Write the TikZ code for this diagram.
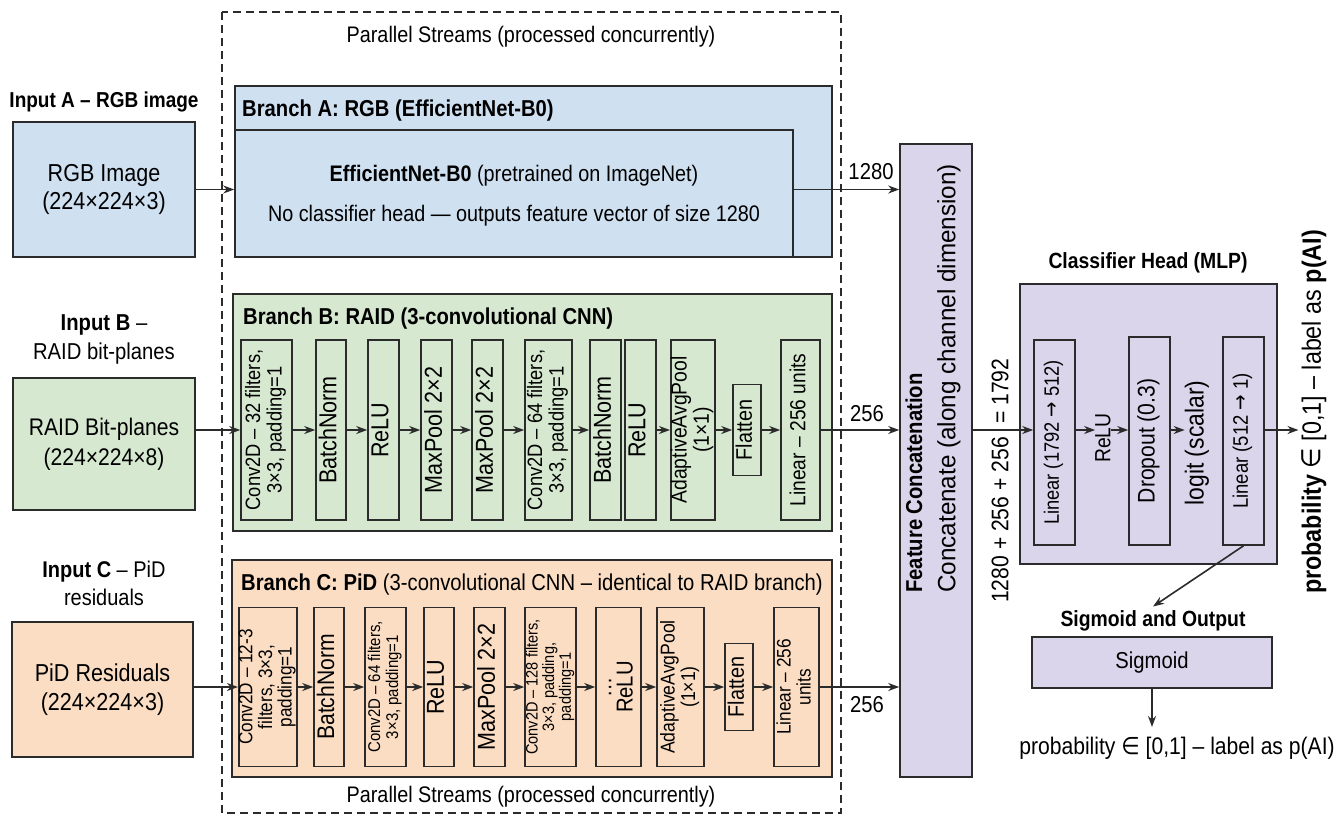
\documentclass[tikz,border=0pt]{standalone}
\usepackage{fontspec}
\setmainfont{Liberation Sans}[FakeStretch=0.88]
\newfontfamily\widef{Liberation Sans}[FakeStretch=0.97]
\newfontfamily\symf{DejaVu Sans}[FakeStretch=0.88]
\usepackage{graphicx}
\usetikzlibrary{arrows.meta}
\definecolor{linec}{HTML}{2B2B2B}
\definecolor{fblue}{HTML}{CFE0F1}
\definecolor{fgreen}{HTML}{D6E8D0}
\definecolor{fpeach}{HTML}{FBDDC3}
\definecolor{fpurple}{HTML}{DAD5EB}
\newcommand{\fsz}[2]{\fontsize{#1}{#2}\selectfont}
\newcommand{\vt}[1]{\rotatebox{90}{\begin{tabular}{@{}c@{}}#1\end{tabular}}}
\newcommand{\ar}{{\symf →}}
\newcommand{\inn}{{\symf ∈}}
\begin{document}
\begin{tikzpicture}[x=1pt,y=-1pt,
  box/.style={draw=linec,line width=1.6pt,inner sep=0pt},
  lay/.style={box,font=\fsz{24.5}{24}},
  laytwo/.style={box,font=\fsz{20.8}{21}},
  arr/.style={draw=linec,line width=1.6pt,-{Stealth[length=11pt,width=8pt]}},
  lbl/.style={inner sep=0pt,text=black},
  every node/.append style={text=black}]
\useasboundingbox (0,0) rectangle (1338,814);
\fill[white] (0,0) rectangle (1338,814);

% dashed parallel region
\draw[linec,line width=1.4pt,dash pattern=on 8pt off 5pt] (222,12) rectangle (841,813);
\node[lbl,font=\fsz{22.5}{26}] (ptop) at (531,37) {Parallel Streams (processed concurrently)};
\node[lbl,font=\fsz{22.5}{26}] (pbot) at (531,797) {Parallel Streams (processed concurrently)};

% inputs
\node[lbl,font=\fsz{21.6}{26}\bfseries] (inA) at (104,102) {Input A – RGB image};
\node[box,fill=fblue,minimum width=182,minimum height=135,align=center,font=\fsz{24.5}{28}] (rgb) at (104,189.5) {RGB Image\\(224×224×3)};
\node[lbl,font=\fsz{23}{29},align=center] (inB) at (104,339) {\textbf{Input B} –\\RAID bit-planes};
\node[box,fill=fgreen,minimum width=182,minimum height=132,align=center,font=\fsz{24}{30}] (raid) at (104,444) {RAID Bit-planes\\(224×224×8)};
\node[lbl,font=\fsz{22.7}{28},align=center] (inC) at (104,583) {\textbf{Input C} – PiD\\residuals};
\node[box,fill=fpeach,minimum width=181,minimum height=135,align=center,font=\fsz{24.5}{29}] (pid) at (102.5,689.5) {PiD Residuals\\(224×224×3)};

% Branch A
\node[box,fill=fblue,minimum width=597,minimum height=171] (abr) at (533.5,171.5) {};
\node[lbl,font=\fsz{23}{26}\bfseries,anchor=west] (atitle) at (242,111) {Branch A: RGB (EfficientNet-B0)};
\node[box,fill=fblue,minimum width=558,minimum height=127] (ainner) at (514,193.5) {};
\node[lbl,font=\fsz{22.5}{26}] (aeff) at (514,176) {\textbf{EfficientNet-B0} (pretrained on ImageNet)};
\node[lbl,font=\fsz{22.5}{26}] (ano) at (514,216) {No classifier head — outputs feature vector of size 1280};

% Branch B
\node[box,fill=fgreen,minimum width=599,minimum height=237] (bbr) at (532.5,412.5) {};
\node[lbl,font=\fsz{23}{26}\bfseries,anchor=west] (btitle) at (243,319) {Branch B: RAID (3-convolutional CNN)};
\node[laytwo,minimum width=51,minimum height=180] (b1) at (266.5,430) {\vt{Conv2D – 32 filters,\\3×3, padding=1}};
\node[lay,minimum width=30,minimum height=180] (b2) at (331,430) {\vt{BatchNorm}};
\node[lay,minimum width=31,minimum height=180] (b3) at (383.5,430) {\vt{ReLU}};
\node[lay,minimum width=31,minimum height=180] (b4) at (436.5,430) {\vt{MaxPool 2×2}};
\node[lay,minimum width=31,minimum height=180] (b5) at (487.5,430) {\vt{MaxPool 2×2}};
\node[laytwo,minimum width=47,minimum height=180] (b6) at (548.5,430) {\vt{Conv2D – 64 filters,\\3×3, padding=1}};
\node[lay,minimum width=31,minimum height=180] (b7) at (605.5,430) {\vt{BatchNorm}};
\node[lay,minimum width=31,minimum height=180] (b8) at (640.5,430) {\vt{ReLU}};
\node[box,font=\fsz{22}{21},minimum width=44,minimum height=180] (b9) at (693,430) {\vt{AdaptiveAvgPool\\(1×1)}};
\node[box,font=\fsz{22.5}{24},minimum width=28,minimum height=91] (b10) at (747,430) {\vt{Flatten}};
\node[box,font=\fsz{21.8}{24},minimum width=39,minimum height=180] (b11) at (800.5,430) {\vt{Linear – 256 units}};

% Branch C
\node[box,fill=fpeach,minimum width=600,minimum height=217] (cbr) at (532,668.5) {};
\node[lbl,font=\fsz{23}{26},anchor=west] (ctitle) at (241,585) {\textbf{Branch C: PiD} (3-convolutional CNN – identical to RAID branch)};
\node[box,font=\fsz{19.5}{18.5},minimum width=58,minimum height=159] (c1) at (268,687) {\vt{Conv2D – 12-3\\filters, 3×3,\\padding=1}};
\node[box,font=\fsz{24}{24},minimum width=30,minimum height=159] (c2) at (329,687) {\vt{BatchNorm}};
\node[box,font=\fsz{17}{18},minimum width=41,minimum height=159] (c3) at (385.5,687) {\vt{Conv2D – 64 filters,\\3×3, padding=1}};
\node[lay,minimum width=30,minimum height=159] (c4) at (439,687) {\vt{ReLU}};
\node[lay,minimum width=31,minimum height=159] (c5) at (489.5,687) {\vt{MaxPool 2×2}};
\node[box,font=\fsz{16.5}{15.5},minimum width=51,minimum height=159] (c6) at (550.5,687) {\vt{Conv2D – 128 filters,\\3×3, padding,\\padding=1}};
\node[box,font=\fsz{23}{18},minimum width=45,minimum height=159] (c7) at (618.5,687) {\vt{…\\ReLU}};
\node[box,font=\fsz{20}{20},minimum width=47,minimum height=159] (c8) at (680.5,687) {\vt{AdaptiveAvgPool\\(1×1)}};
\node[box,font=\fsz{22.5}{24},minimum width=28,minimum height=87] (c9) at (739,687) {\vt{Flatten}};
\node[box,font=\fsz{19.6}{20},minimum width=45,minimum height=159] (c10) at (796.5,687) {\vt{Linear – 256\\units}};

% concatenation
\node[box,fill=fpurple,minimum width=72,minimum height=633] (cat) at (936,460.5) {};
\node[lbl,rotate=90,anchor=west,font=\fsz{23}{26}\bfseries] (catt) at (914,593) {Feature Concatenation};
\node[lbl,rotate=90,anchor=west,font=\fsz{25}{26}\widef] (catd) at (949,593) {Concatenate (along channel dimension)};

% arrows into branches
\draw[arr] (rgb.east) -- (rgb -| ainner.west);
\draw[arr] (raid.east |- b1) -- (b1);
\draw[arr] (pid.east |- c1) -- (c1);
\draw[arr] (b1) -- (b2);
\draw[arr] (b2) -- (b3);
\draw[arr] (b3) -- (b4);
\draw[arr] (b4) -- (b5);
\draw[arr] (b5) -- (b6);
\draw[arr] (b6) -- (b7);
\draw[arr] (b8) -- (b9);
\draw[arr] (b9) -- (b10);
\draw[arr] (b10) -- (b11);
\draw[arr] (c1) -- (c2);
\draw[arr] (c2) -- (c3);
\draw[arr] (c3) -- (c4);
\draw[arr] (c4) -- (c5);
\draw[arr] (c5) -- (c6);
\draw[arr] (c6) -- (c7);
\draw[arr] (c7) -- (c8);
\draw[arr] (c8) -- (c9);
\draw[arr] (c9) -- (c10);

% into concatenation
\draw[arr] (rgb -| ainner.east) -- (rgb -| cat.west);
\draw[arr] (b11) -- (b11 -| cat.west);
\draw[arr] (c10) -- (c10 -| cat.west);
\node[lbl,font=\fsz{23}{26}] (l1280) at (871,172) {1280};
\node[lbl,font=\fsz{23}{26}] (l256a) at (867,414) {256};
\node[lbl,font=\fsz{23}{26}] (l256b) at (867,705) {256};

% classifier head
\node[lbl,font=\fsz{22}{26}\bfseries] (mlpt) at (1148,263) {Classifier Head (MLP)};
\node[box,fill=fpurple,minimum width=257,minimum height=280] (mlp) at (1148.5,424) {};
\coordinate (ay) at (0,430);
\node[box,font=\fsz{20.8}{22},minimum width=41,minimum height=205] (lin1) at (1054.5,442.5) {\vt{Linear (1792 \ar{} 512)}};
\node[lbl,rotate=90,font=\fsz{22}{26}] (relu) at (1103,438) {ReLU};
\node[box,font=\fsz{24}{26},minimum width=41,minimum height=208] (drop) at (1149.5,441) {\vt{Dropout (0.3)}};
\node[lbl,rotate=90,font=\fsz{26}{26}] (logit) at (1197,443) {logit (scalar)};
\node[box,font=\fsz{21}{22},minimum width=41,minimum height=208] (lin2) at (1243.5,441) {\vt{Linear (512 \ar{} 1)}};
\node[lbl,rotate=90,font=\fsz{26.5}{26}] (prob) at (1314,412) {\textbf{probability} \inn{} [0,1] – label as \textbf{p(AI)}};
\node[lbl,rotate=90,anchor=east,font=\fsz{24}{26}] (sumA) at (1000,437) {1280 + 256 + 256};
\node[lbl,rotate=90,anchor=west,font=\fsz{24}{26}] (sumB) at (1000,424) {= 1792};

\draw[arr] (cat.east |- ay) -- (lin1.west |- ay);
\draw[arr] (lin1.east |- ay) -- (relu.north |- ay);
\draw[arr] (relu.south |- ay) -- (drop.west |- ay);
\draw[arr] (drop.east |- ay) -- (logit.north |- ay);
\draw[arr] (lin2.east |- ay) -- ([xshift=-3pt]prob.north |- ay);

% sigmoid and output
\node[lbl,font=\fsz{22}{26}\bfseries] (sigt) at (1153,621) {Sigmoid and Output};
\node[box,fill=fpurple,minimum width=240,minimum height=51,font=\fsz{23}{26}] (sig) at (1152,662.5) {Sigmoid};
\node[lbl,font=\fsz{24}{26}] (outp) at (1177,748) {probability \inn{} [0,1] – label as p(AI)};
\draw[arr] (lin2.south) -- ([yshift=4pt]sigt.north);
\draw[arr] (sig.south) -- (sig.south |- 0,727);
\end{tikzpicture}
\end{document}
